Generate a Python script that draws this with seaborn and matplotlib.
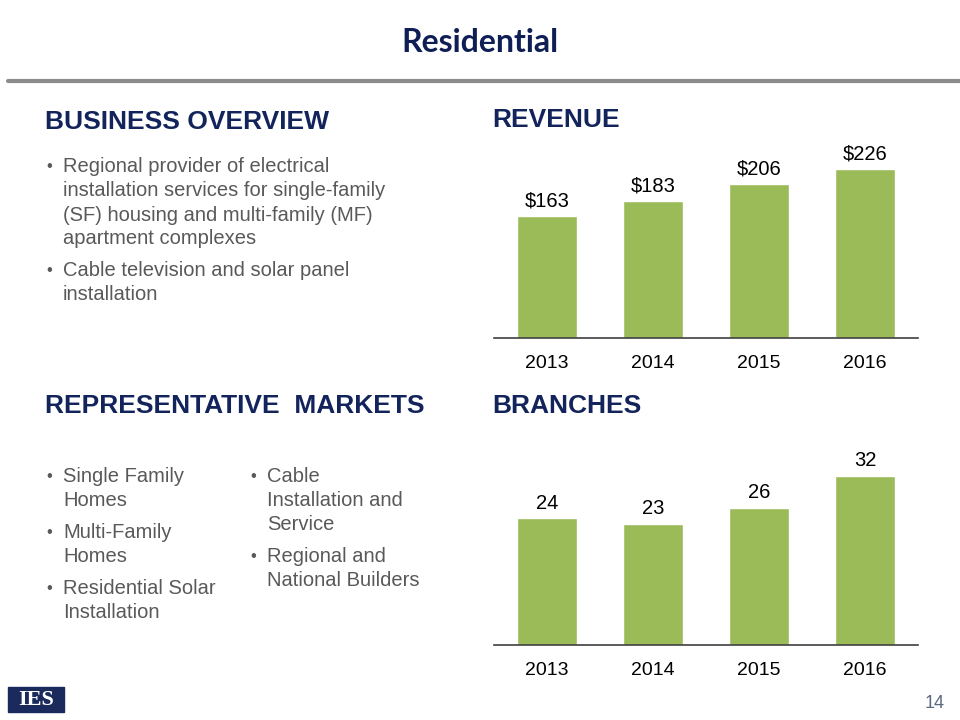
import matplotlib
matplotlib.use("Agg")
import matplotlib.pyplot as plt
import pandas as pd
import seaborn as sns
from matplotlib.patches import Rectangle

years = ["2013", "2014", "2015", "2016"]
revenue = [163, 183, 206, 226]
branches = [24, 23, 26, 32]

title = "Residential"
overview_lines = [
    ("•", "Regional provider of electrical"),
    ("", "installation services for single-family"),
    ("", "(SF) housing and multi-family (MF)"),
    ("", "apartment complexes"),
    ("•", "Cable television and solar panel"),
    ("", "installation"),
]
markets_left = [
    ("•", "Single Family"),
    ("", "Homes"),
    ("•", "Multi-Family"),
    ("", "Homes"),
    ("•", "Residential Solar"),
    ("", "Installation"),
]
markets_right = [
    ("•", "Cable"),
    ("", "Installation and"),
    ("", "Service"),
    ("•", "Regional and"),
    ("", "National Builders"),
]

GREEN = "#9BBB59"
NAVY = "#13235B"
GREY_TXT = "#595959"

sns.set_style("white")
plt.rcParams["font.family"] = ["Liberation Sans", "DejaVu Sans"]

W, H = 960, 720
fig = plt.figure(figsize=(9.6, 7.2), dpi=100)


def px(x, y):
    return x / W, 1 - y / H


def txt(x, y, s, **kw):
    fig.text(*px(x, y), s, **kw)


# title and rule
txt(480, 42, title, ha="center", va="center", fontsize=23, fontweight="bold",
    color="#0f1f55", family="Lato")
fig.add_artist(plt.Line2D([8 / W, 1], [1 - 81 / H] * 2, color="#8c8c8c", lw=3))

# section headers
for x, y, s in [(45, 122, "BUSINESS OVERVIEW"), (492, 120, "REVENUE"),
                (45, 406, "REPRESENTATIVE  MARKETS"), (492, 406, "BRANCHES")]:
    txt(x, y, s, ha="left", va="center", fontsize=19, fontweight="bold", color=NAVY)


def bullets(lines, x, ys):
    for (b, s), y in zip(lines, ys):
        if b:
            txt(x, y, b, ha="left", va="center", fontsize=12, color=GREY_TXT)
        txt(x + 17, y, s, ha="left", va="center", fontsize=14.5, color=GREY_TXT)


bullets(overview_lines, 46, [167, 191, 215, 239, 271, 295])
bullets(markets_left, 46, [476, 500, 532, 556, 588, 612])
bullets(markets_right, 250, [476, 500, 524, 556, 580])


def bar_panel(values, baseline, top, ymax, fmt):
    left, right = 494, 918
    ax = fig.add_axes([left / W, 1 - baseline / H, (right - left) / W, (baseline - top) / H])
    df = pd.DataFrame({"year": years, "value": values})
    sns.barplot(data=df, x="year", y="value", color=GREEN, width=0.56,
                saturation=1, ax=ax)
    ax.set_ylim(0, ymax)
    ax.set_xlim(-0.5, 3.5)
    ax.bar_label(ax.containers[0], labels=[fmt.format(v) for v in values],
                 padding=4, fontsize=14.5, color="black")
    sns.despine(ax=ax, left=True)
    ax.spines["bottom"].set_color("#404040")
    ax.spines["bottom"].set_linewidth(1.2)
    ax.set_yticks([])
    ax.set_xlabel("")
    ax.set_ylabel("")
    ax.tick_params(axis="x", length=0, pad=12, labelsize=14, labelcolor="black")
    return ax


bar_panel(revenue, 338, 150, 188 / 0.748, "${}")
bar_panel(branches, 645, 455, 190 / 5.28, "{}")

# logo and page number
fig.add_artist(Rectangle(px(8, 712), 56 / W, 25 / H, color="#1b2a5c",
                         transform=fig.transFigure))
txt(36, 700, "IES", ha="center", va="center", fontsize=16, fontweight="bold",
    color="white", family="Liberation Serif")
txt(935, 704, "14", ha="center", va="center", fontsize=13, color="#5a6a7e")

fig.savefig("out.png", dpi=100)
